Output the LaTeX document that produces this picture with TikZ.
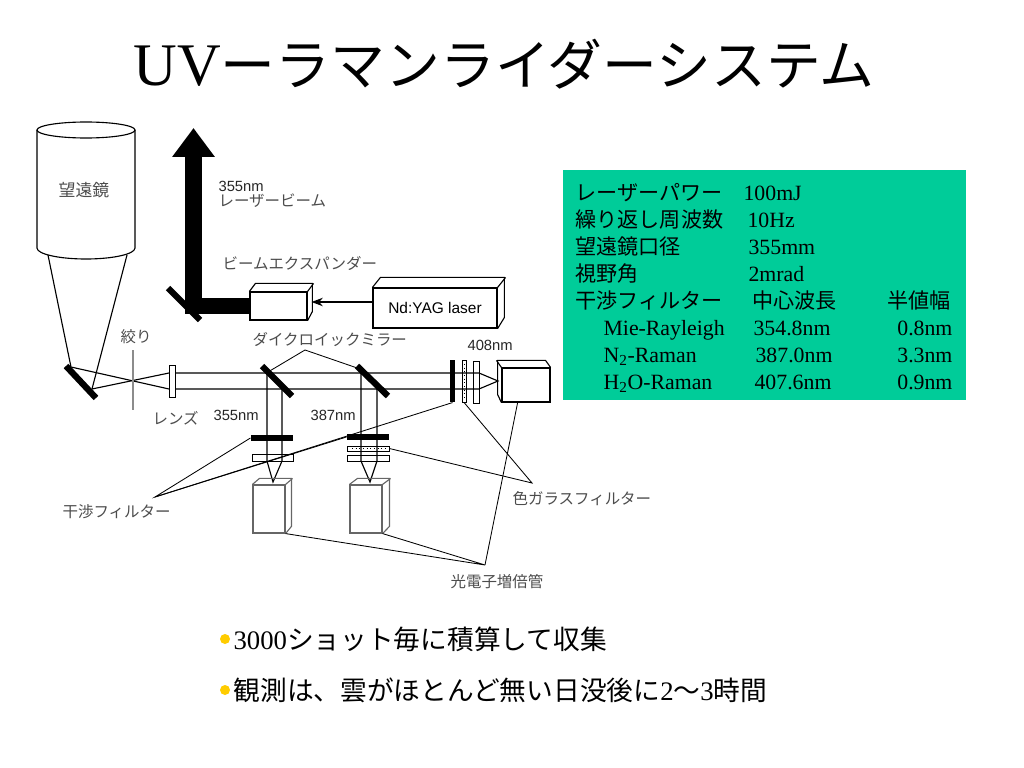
\documentclass[tikz,border=0pt]{standalone}
\usepackage{fontspec}
\setmainfont{Liberation Serif}
\newfontfamily\jp{Noto Sans CJK JP}
\newfontfamily\lab{Liberation Sans}
\usepackage{tikz}
\usetikzlibrary{positioning, arrows, arrows.meta, calc}
\definecolor{tablegreen}{RGB}{0,204,153}
\definecolor{bulletyellow}{RGB}{255,204,0}
\tikzset{
	lbl/.style={font=\jp\fontsize{11}{13}\selectfont, text=black!70, inner sep=0pt, anchor=west}, % étiquettes japonaises
	nmlbl/.style={font=\lab\fontsize{10.5}{12}\selectfont, text=black!85, inner sep=0pt, anchor=west}, % longueurs d'onde
	mirror/.style={line width=4.5pt}, % miroirs
	ifbox/.style={fill=black, inner sep=0pt}, % filtres interférentiels
	gfbox/.style={draw, line width=0.6pt, inner sep=0pt}, % filtres en verre
	box/.style={draw, line width=0.8pt, inner sep=0pt}, % boîtes
	pmtbox/.style={draw=black!60, line width=0.8pt, inner sep=0pt, minimum width=0.8cm, minimum height=1.2cm},
	leader/.style={line width=0.6pt},
	thickbeam/.style={line width=11.4pt, line join=miter},
	tabjp/.style={font=\jp\fontsize{15}{18}\selectfont, anchor=base west, inner sep=0pt},
	tabnum/.style={font=\fontsize{15.5}{18}\selectfont, anchor=base west, inner sep=0pt},
	bullettxt/.style={font=\fontsize{19}{23}\selectfont, anchor=base west, inner sep=0pt},
}
\begin{document}
\begin{tikzpicture}[x=0.025cm, y=-0.025cm, line width=0.8pt]
			\useasboundingbox (0,0) rectangle (1024,768);
			
			% Titre
			\node[anchor=base west, inner sep=0pt] (title) at (133,86) {\fontsize{43}{50}\selectfont UV{\jp\fontsize{39}{46}\selectfont ーラマンライダーシステム}};
			
			% Télescope
			\draw (86,130) ellipse [x radius=49, y radius=8];
			\draw (37,130) -- (37,248) arc[start angle=180, end angle=0, x radius=49, y radius=11] -- (135,130);
			\node[lbl, anchor=center, font=\jp\fontsize{12}{14}\selectfont] (lblTel) at (84,190) {望遠鏡};
			\coordinate (telL) at (48,255);
			\coordinate (telR) at (127,255);
			
			% Miroir et lentille
			\coordinate (m1a) at (66,366);
			\coordinate (m1b) at (96,398);
			\coordinate (r1) at (71,367);
			\coordinate (r2) at (92,389);
			\node[box, line width=0.6pt, minimum width=0.15cm, minimum height=0.8cm] (lens) at (172,381) {};
			\coordinate (upL) at (169,373);
			\coordinate (loL) at (169,389);
			\coordinate (upR) at (175,373);
			\coordinate (loR) at (175,389);
			\coordinate (upE) at (479,373);
			\coordinate (loE) at (479,389);
			\coordinate (f3) at (498,381);
			\draw[mirror] (m1a) -- (m1b);
			\draw (telL) -- (r1) -- (loL);
			\draw (telR) -- (r2) -- (upL);
			\draw (upR) -- (upE) -- (f3) -- (loE) -- (loR);
			\draw[black!45, line width=1pt] (133,350) -- (133,410); % diaphragme
			
			% Miroirs dichroïques
			\coordinate (d1a) at (262,366);
			\coordinate (d1b) at (292,396);
			\coordinate (d2a) at (357,366);
			\coordinate (d2b) at (388,396);
			\coordinate (f1) at (273,482);
			\coordinate (f2) at (370,482);
			\draw (267,373) -- (267,461) -- (f1) -- (282,461) -- (282,389);
			\draw (361,373) -- (361,461) -- (f2) -- (377,461) -- (377,389);
			\draw[mirror] (d1a) -- (d1b);
			\draw[mirror] (d2a) -- (d2b);
			
			% Filtres
			\node[ifbox, minimum width=1.05cm, minimum height=0.15cm] (if1) at (272,438) {};
			\node[gfbox, minimum width=1.025cm, minimum height=0.175cm] (gf1) at (272.5,457.5) {};
			\node[ifbox, minimum width=1.05cm, minimum height=0.14cm] (if2) at (368,437) {};
			\node[gfbox, minimum width=1.05cm, minimum height=0.125cm] (gf2a) at (368,448.5) {};
			\node[gfbox, minimum width=1.05cm, minimum height=0.15cm] (gf2b) at (368,458) {};
			\draw[dotted, line width=0.6pt] (352,448.5) -- (385,448.5);
			\node[ifbox, minimum width=0.125cm, minimum height=1.05cm] (if3) at (452.5,381) {};
			\node[gfbox, minimum width=0.1cm, minimum height=1.05cm] (gf3a) at (464,381) {};
			\node[gfbox, minimum width=0.15cm, minimum height=1.05cm] (gf3b) at (476,382) {};
			\draw[dotted, line width=0.6pt] (464,364) -- (464,398);
			
			% Photomultiplicateurs
			\node[pmtbox] (pmt1) at (269,509) {};
			\draw[black!60] (pmt1.north west) -- ++(7,-6) -- ++(32,0) -- ++(0,48) -- (pmt1.south east);
			\draw[black!60] (pmt1.north east) -- ++(7,-6);
			\node[pmtbox] (pmt2) at (366,509) {};
			\draw[black!60] (pmt2.north west) -- ++(8,-6) -- ++(32,0) -- ++(0,48) -- (pmt2.south east);
			\draw[black!60] (pmt2.north east) -- ++(8,-6);
			\node[box, minimum width=1.2cm, minimum height=0.85cm] (pmt3) at (526,385) {};
			\draw (pmt3.north east) -- ++(-5,-7) -- ++(-48,0) -- ++(0,34) -- (pmt3.south west);
			\draw (pmt3.north west) -- ++(-5,-7);
			
			% Laser
			\node[box, minimum width=3.1cm, minimum height=1cm, font=\lab\fontsize{11}{13}\selectfont] (yag) at (435,308) {Nd:YAG laser};
			\draw (yag.north west) -- ++(8,-10) -- ++(124,0) -- ++(0,40) -- (yag.south east);
			\draw (yag.north east) -- ++(8,-10);
			\node[box, minimum width=1.425cm, minimum height=0.7cm] (exp) at (278.5,306) {};
			\draw (exp.north west) -- ++(6,-8) -- ++(57,0) -- ++(0,28) -- (exp.south east);
			\draw (exp.north east) -- ++(6,-8);
			\draw[-{Stealth[length=8pt, width=6pt]}] ($(yag.west)+(0,-6)$) -- ($(exp.east)+(4,-4)$);
			\coordinate (bendPt) at (193.5,306);
			\coordinate (outTip) at (193.5,128);
			\draw[thickbeam, -{Triangle[width=29pt, length=20.6pt]}] (exp.west) -- (bendPt) -- (outTip);
			\coordinate (m2a) at (168,288);
			\coordinate (m2b) at (200,320);
			\draw[mirror] (m2a) -- (m2b);
			
			% Étiquettes
			\node[nmlbl] (lblBeamNm) at (218,186) {355nm};
			\node[lbl, below=1pt of lblBeamNm.south west, anchor=north west] (lblBeam) {レーザービーム};
			\node[lbl] (lblExp) at (222,263) {ビームエクスパンダー};
			\node[lbl] (lblDm) at (252,340) {ダイクロイックミラー};
			\node[lbl] (lblIris) at (120,337) {絞り};
			\node[lbl] (lblLens) at (152,418) {レンズ};
			\node[nmlbl] (lbl355) at (213,415) {355nm};
			\node[nmlbl] (lbl387) at (310,415) {387nm};
			\node[nmlbl] (lbl408) at (467,345) {408nm};
			\node[lbl] (lblIF) at (62,512) {干渉フィルター};
			\node[lbl] (lblGF) at (512,499) {色ガラスフィルター};
			\node[lbl] (lblPMT) at (450,582) {光電子増倍管};
			
			% Lignes de rappel
			\coordinate (dmApex) at (305,350);
			\coordinate (ifApex) at (155,497);
			\coordinate (gfApex) at (532,483);
			\coordinate (pmApex) at (485,565);
			\draw[leader] ($(d1a)!0.2!(d1b)$) -- (dmApex) -- ($(d2a)!0.1!(d2b)$);
			\draw[leader] (if1.west) -- (ifApex) -- (if2.west);
			\draw[leader] (ifApex) -- (if3.south);
			\draw[leader] (gf2a.east) -- (gfApex) -- (gf3a.south);
			\draw[leader] (pmt1.south east) -- (pmApex) -- (pmt2.south east);
			\draw[leader] (pmApex) -- ($(pmt3.south west)!0.33!(pmt3.south east)$);
			
			% Tableau
			\fill[tablegreen] (563,170) rectangle (966,400);
			\node[tabjp] (pw) at (575,200) {レーザーパワー};
			\node[tabnum] (pwv) at (743,200) {100mJ};
			\node[tabjp] (rep) at (575,227) {繰り返し周波数};
			\node[tabnum] (repv) at (747,227) {10Hz};
			\node[tabjp] (ap) at (575,254) {望遠鏡口径};
			\node[tabnum] (apv) at (748,254) {355mm};
			\node[tabjp] (fov) at (575,281) {視野角};
			\node[tabnum] (fovv) at (748,281) {2mrad};
			\node[tabjp] (ift) at (575,308) {干渉フィルター};
			\node[tabjp] (cw) at (752,308) {中心波長};
			\node[tabjp] (fw) at (887,308) {半値幅};
			\node[tabnum] (mie) at (603,335) {Mie-Rayleigh};
			\node[tabnum] (miec) at (753,335) {354.8nm};
			\node[tabnum, anchor=base east] (miew) at (953,335) {0.8nm};
			\node[tabnum] (nr) at (603,362) {N\textsubscript{2}-Raman};
			\node[tabnum] (nrc) at (755,362) {387.0nm};
			\node[tabnum, anchor=base east] (nrw) at (953,362) {3.3nm};
			\node[tabnum] (hr) at (603,389) {H\textsubscript{2}O-Raman};
			\node[tabnum] (hrc) at (754,389) {407.6nm};
			\node[tabnum, anchor=base east] (hrw) at (953,389) {0.9nm};
			
			% Puces
			\fill[bulletyellow] (225,639) circle (5);
			\node[bullettxt] (b1) at (233,649) {3000{\jp ショット毎に積算して収集}};
			\fill[bulletyellow] (225,690) circle (5);
			\node[bullettxt] (b2) at (233,700) {{\jp 観測は、雲がほとんど無い日没後に}2{\jp 〜}3{\jp 時間}};
		\end{tikzpicture}
\end{document}
